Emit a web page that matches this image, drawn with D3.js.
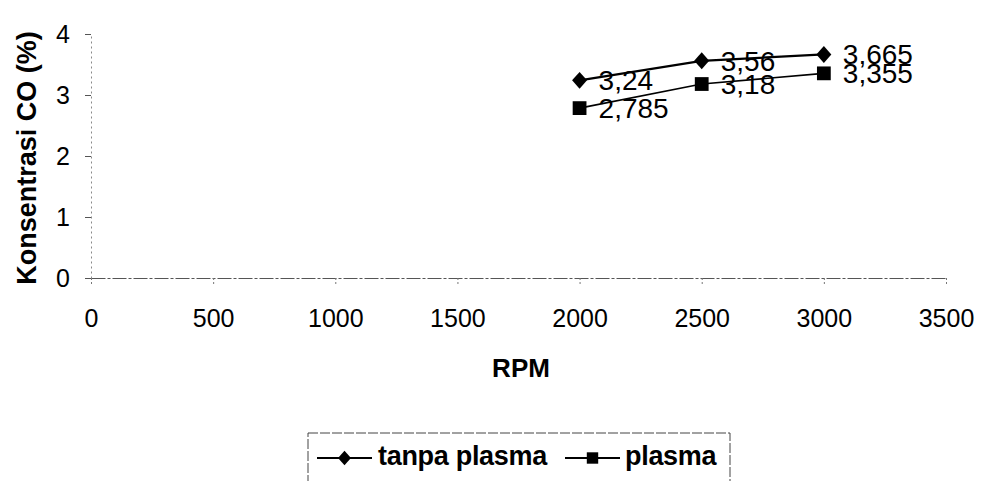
<!DOCTYPE html>
<html>
<head>
<meta charset="utf-8">
<script src="https://cdn.jsdelivr.net/npm/d3@7"></script>
<style>
  body { margin: 0; background: #fff; }
  svg { display: block; font-family: Arial, "Liberation Sans", sans-serif; }
</style>
</head>
<body>
<svg id="canvas" width="985" height="481"></svg>
<script>
// data
const rpm = [2000, 2500, 3000];
const tanpaPlasma = [3.24, 3.56, 3.665];
const plasma = [2.785, 3.18, 3.355];
const xTicks = [0, 500, 1000, 1500, 2000, 2500, 3000, 3500];
const yTicks = [0, 1, 2, 3, 4];

const svg = d3.select('#canvas');

const x = d3.scaleLinear().domain([0, 3500]).range([91, 946]);
const y = d3.scaleLinear().domain([0, 4]).range([278, 34]);

// diamond a bit wider than d3's own
const diamond = {
    draw(ctx, size) {
        const w = Math.sqrt(size) * 0.53, h = w * 1.13;
        ctx.moveTo(0, -h);
        ctx.lineTo(w, 0);
        ctx.lineTo(0, h);
        ctx.lineTo(-w, 0);
        ctx.closePath();
    }
};

// x axis
const xAxis = svg.append('g')
    .attr('transform', `translate(0,${y(0)})`)
    .call(d3.axisBottom(x).tickValues(xTicks).tickSize(6).tickSizeOuter(0).tickPadding(28).tickFormat(d => d));
xAxis.select('.domain').attr('stroke', '#555').attr('stroke-width', 1.2).attr('stroke-dasharray', '14,2,3,2');
xAxis.selectAll('.tick line').attr('stroke', '#777').attr('stroke-dasharray', '2,2');
xAxis.selectAll('.tick text').attr('font-size', 25).attr('fill', '#000').attr('dy', '0.6em');

// y axis
const yAxis = svg.append('g')
    .attr('transform', `translate(${x(0)},0)`)
    .call(d3.axisLeft(y).tickValues(yTicks).tickSize(6).tickSizeOuter(0).tickPadding(15).tickFormat(d => d));
yAxis.select('.domain').attr('stroke', '#888').attr('stroke-dasharray', '2,3');
yAxis.selectAll('.tick line').attr('stroke', '#555');
yAxis.selectAll('.tick text').attr('font-size', 25).attr('fill', '#000');

// axis titles
svg.append('text')
    .attr('x', 521).attr('y', 377)
    .attr('text-anchor', 'middle')
    .attr('font-size', 26).attr('font-weight', 'bold')
    .text('RPM');

svg.append('text')
    .attr('transform', 'translate(36,158) rotate(-90)')
    .attr('text-anchor', 'middle')
    .attr('font-size', 27).attr('font-weight', 'bold')
    .text('Konsentrasi CO (%)');

const line = d3.line().x(d => x(d[0])).y(d => y(d[1]));
const fmt = v => String(v).replace('.', ',');

const series = [
    { name: 'tanpa plasma', values: tanpaPlasma, symbol: diamond, size: 200, width: 2.2 },
    { name: 'plasma', values: plasma, symbol: d3.symbolSquare, size: 190, width: 1.6 }
];

series.forEach(s => {
    const pts = rpm.map((r, i) => [r, s.values[i]]);
    svg.append('path')
        .attr('d', line(pts))
        .attr('fill', 'none')
        .attr('stroke', '#000')
        .attr('stroke-width', s.width);
    svg.selectAll(null).data(pts).enter().append('path')
        .attr('transform', d => `translate(${x(d[0])},${y(d[1])})`)
        .attr('d', d3.symbol(s.symbol, s.size))
        .attr('fill', '#000');
    svg.selectAll(null).data(pts).enter().append('text')
        .attr('x', d => x(d[0]) + 19)
        .attr('y', d => y(d[1]) + 10)
        .attr('font-size', 28)
        .attr('fill', '#000')
        .text(d => fmt(d[1]));
});

// legend
const legend = svg.append('g');
legend.append('rect')
    .attr('x', 308).attr('y', 433)
    .attr('width', 422).attr('height', 60)
    .attr('fill', 'none')
    .attr('stroke', '#444')
    .attr('stroke-dasharray', '10,2');

const legendItems = [
    { label: 'tanpa plasma', symbol: diamond, size: 150, x0: 317, x1: 372, tx: 378 },
    { label: 'plasma', symbol: d3.symbolSquare, size: 130, x0: 565, x1: 620, tx: 625 }
];
legendItems.forEach(it => {
    legend.append('line')
        .attr('x1', it.x0).attr('x2', it.x1)
        .attr('y1', 458).attr('y2', 458)
        .attr('stroke', '#000').attr('stroke-width', 2);
    legend.append('path')
        .attr('transform', `translate(${(it.x0 + it.x1) / 2},458)`)
        .attr('d', d3.symbol(it.symbol, it.size))
        .attr('fill', '#000');
    legend.append('text')
        .attr('x', it.tx).attr('y', 465)
        .attr('font-size', 27).attr('font-weight', 'bold')
        .attr('letter-spacing', -0.3)
        .text(it.label);
});
</script>
</body>
</html>
